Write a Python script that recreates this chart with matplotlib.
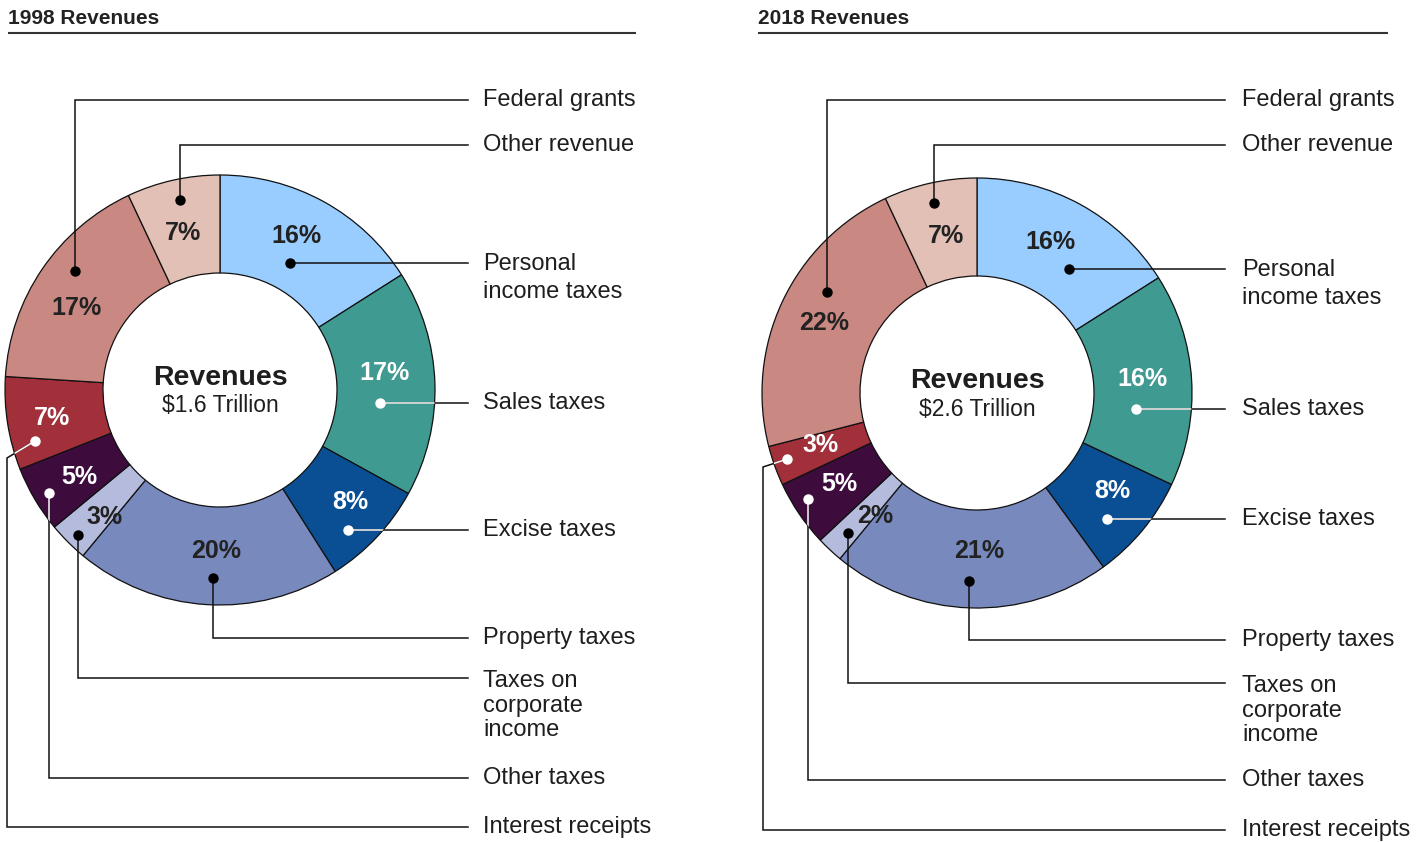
import matplotlib
matplotlib.use("Agg")
import matplotlib.pyplot as plt
import numpy as np

# ---- data ----
titles = ["1998 Revenues", "2018 Revenues"]
totals = ["$1.6 Trillion", "$2.6 Trillion"]
categories = [
    "Personal\nincome taxes",
    "Sales taxes",
    "Excise taxes",
    "Property taxes",
    "Taxes on\ncorporate\nincome",
    "Other taxes",
    "Interest receipts",
    "Federal grants",
    "Other revenue",
]
shares_1998 = [16, 17, 8, 20, 3, 5, 7, 17, 7]
shares_2018 = [16, 16, 8, 21, 2, 5, 3, 22, 7]

# ---- style ----
colors = ["#99ccff", "#3f9a91", "#0a4f93", "#7889bd", "#b5bbdd",
          "#3d0b3c", "#a1303a", "#c98882", "#e3c0b6"]
light = [False, True, True, False, False, True, True, False, False]
TXT = "#1e1e1e"

W, H = 1426, 842
R_OUT, R_IN = 215, 117
R_LAB = 166

# per-chart layout (pixel units, y down)
layouts = [
    dict(
        cx=220, cy=390, tx=8, rule=636, label_x=483, line_end=468, bend_x=7,
        nudge=[(-4, -9), (-1, -12), (9, -2), (7, -5), (2, 10), (2, 2), (-4, 2), (-6, 11), (-1, 5)],
        dot=[(-6, 27), (-5, 30), (-2, 28), (-4, 27), (-27, 18), (-30, 16), (-17, 23), (-2, -37), (-3, -33)],
        route=["h", "h", "h", "v", "v", "v", "d", "v", "v"],
        line_y=[None, None, None, 638, 678, 778, 827, 100, 145],
        bend_y=458,
    ),
    dict(
        cx=977, cy=393, tx=758, rule=1388, label_x=1242, line_end=1225, bend_x=763,
        nudge=[(-7, -6), (0, -4), (7, -8), (7, -8), (12, 2), (0, -2), (0, -4), (-3, 1), (5, 5)],
        dot=[(19, 27), (-7, 30), (-5, 28), (-10, 30), (-27, 17), (-32, 15), (-34, 14), (3, -31), (-12, -33)],
        route=["h", "h", "h", "v", "v", "v", "d", "v", "v"],
        line_y=[None, None, None, 640, 683, 780, 830, 100, 145],
        bend_y=467,
    ),
]


def draw_chart(ax, shares, title, total, lay):
    cx, cy = lay["cx"], lay["cy"]

    # title + rule
    ax.text(lay["tx"], 18, title, fontsize=15, weight="bold", color="#222",
            va="center", ha="left")
    ax.plot([lay["tx"], lay["rule"]], [33, 33], color="#333", lw=1.5,
            solid_capstyle="butt")

    # ring (y axis is inverted, so counterclock here runs clockwise on screen)
    wedges, _ = ax.pie(shares, colors=colors, startangle=-90, counterclock=True,
                       center=(cx, cy), radius=R_OUT, frame=True,
                       wedgeprops=dict(width=R_OUT - R_IN, edgecolor="#111",
                                       linewidth=0.9))

    ax.text(cx, cy - 12, "Revenues", fontsize=20.5, weight="bold", color=TXT,
            ha="center", va="center")
    ax.text(cx, cy + 16, total, fontsize=16.5, color=TXT, ha="center", va="center")

    frac = np.cumsum([0] + list(shares)) / sum(shares)
    for i, cat in enumerate(categories):
        phi = np.radians(360 * (frac[i] + frac[i + 1]) / 2)
        lx = cx + R_LAB * np.sin(phi) + lay["nudge"][i][0]
        ly = cy - R_LAB * np.cos(phi) + lay["nudge"][i][1]
        pc = "white" if light[i] else "#222"
        ax.text(lx, ly, f"{shares[i]}%", fontsize=18, weight="bold", color=pc,
                ha="center", va="center", zorder=6)

        dx, dy = lx + lay["dot"][i][0], ly + lay["dot"][i][1]
        r = lay["route"][i]
        if r == "h":
            yy = dy
            xs, ys = [dx, lay["line_end"]], [dy, dy]
        elif r == "v":
            yy = lay["line_y"][i]
            xs, ys = [dx, dx, lay["line_end"]], [dy, yy, yy]
        else:
            yy = lay["line_y"][i]
            xs = [dx, lay["bend_x"], lay["bend_x"], lay["line_end"]]
            ys = [dy, lay["bend_y"], yy, yy]
        ax.plot(xs, ys, color="#111", lw=1.1, zorder=3, solid_joinstyle="miter")
        if light[i]:
            wl, = ax.plot(xs, ys, color="white", lw=1.1, zorder=4)
            wl.set_clip_path(wedges[i])
        ax.plot(dx, dy, "o", ms=7.5, color="white" if light[i] else "black",
                mec="none", zorder=5)

        if "\n" in cat:
            three = cat.count("\n") > 1
            ls = 1.15 if three else 1.36
            top = yy - 8 if three else yy - 10
            ax.text(lay["label_x"], top, cat, fontsize=17, color=TXT,
                    ha="left", va="top", linespacing=ls)
        else:
            ax.text(lay["label_x"], yy, cat, fontsize=17, color=TXT,
                    ha="left", va="center")


def main():
    plt.rcParams["font.family"] = ["Liberation Sans", "DejaVu Sans"]
    fig = plt.figure(figsize=(W / 100, H / 100), dpi=100)
    ax = fig.add_axes([0, 0, 1, 1])

    draw_chart(ax, shares_1998, titles[0], totals[0], layouts[0])
    draw_chart(ax, shares_2018, titles[1], totals[1], layouts[1])

    ax.set_xlim(0, W)
    ax.set_ylim(H, 0)
    ax.set_aspect("equal")
    ax.axis("off")

    fig.savefig("out.png", dpi=100, facecolor="white")


if __name__ == "__main__":
    main()
